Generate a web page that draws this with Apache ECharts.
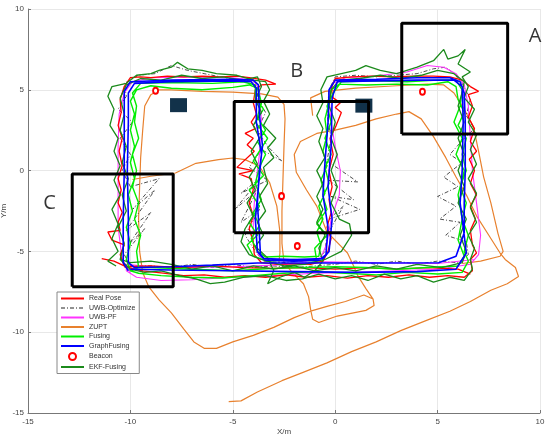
<!DOCTYPE html>
<html>
<head>
<meta charset="utf-8">
<script src="https://cdn.jsdelivr.net/npm/echarts@6/dist/echarts.min.js"></script>
<style>
  html, body { margin: 0; padding: 0; background: #fff; }
  #chart { width: 550px; height: 440px; }
</style>
</head>
<body>
<div id="chart"></div>
<script>
// axis ticks
const xTicks = [-15, -10, -5, 0, 5, 10];
const yTicks = [-15, -10, -5, 0, 5, 10];

// trajectories [x, y] in metres
const realPose = [[-11.4,-5.45],[-10.8,-5.6],[-10.3,-5.9],[-10.5,-5.2],[-10.3,-4.6],[-10.9,-4.3],[-11.1,-3.8],[-10.5,-3.7],[-10.6,-3.2],[-10.4,-2.6],[-10.6,-2.0],[-10.45,-1.2],[-10.6,-0.5],[-10.4,0.3],[-10.55,1.2],[-10.4,2.0],[-10.6,2.8],[-10.45,3.6],[-10.5,4.4],[-10.3,5.2],[-10.0,5.75],[-9.5,5.8],[-9.0,5.75],[-8.2,5.85],[-7.4,5.8],[-6.5,5.85],[-5.6,5.8],[-4.8,5.85],[-4.2,5.75],[-3.4,5.6],[-2.9,5.35],[-3.6,5.3],[-3.9,5.0],[-4.0,4.2],[-3.85,3.5],[-4.1,3.0],[-3.9,2.6],[-4.4,2.3],[-4.0,2.0],[-4.3,1.6],[-3.95,1.2],[-4.8,0.2],[-4.0,0.0],[-4.7,-0.2],[-4.1,-0.5],[-4.0,-1.2],[-4.2,-2.0],[-4.0,-2.8],[-4.2,-3.6],[-4.0,-4.4],[-3.95,-5.2],[-3.6,-5.7],[-2.8,-5.8],[-2.0,-5.75],[-1.2,-5.8],[-0.6,-5.6],[-0.35,-5.0],[-0.2,-4.2],[-0.4,-3.5],[-0.2,-2.6],[-0.3,-1.8],[-0.15,-1.0],[-0.3,0.0],[-0.1,1.0],[-0.25,2.0],[0.05,2.8],[0.3,3.6],[0.0,3.9],[0.25,4.2],[-0.1,4.5],[-0.2,5.1],[0.0,5.7],[0.8,5.8],[1.8,5.85],[2.8,5.8],[3.8,5.85],[4.8,5.85],[5.6,5.8],[6.2,5.6],[6.6,5.2],[7.0,4.9],[6.5,4.7],[6.7,4.0],[6.5,3.3],[6.8,2.6],[6.6,1.8],[6.9,1.2],[6.55,0.7],[6.8,0.0],[6.6,-0.8],[6.9,-1.5],[6.6,-2.2],[6.85,-3.0],[6.6,-3.7],[6.7,-4.6],[6.9,-5.1],[6.6,-5.5],[6.7,-6.2],[6.3,-6.6],[5.5,-6.5],[4.6,-6.6],[3.6,-6.45],[2.6,-6.6],[1.6,-6.5],[0.6,-6.65],[-0.4,-6.5],[-1.4,-6.6],[-2.4,-6.45],[-3.4,-6.6],[-4.4,-6.5],[-5.4,-6.6],[-6.4,-6.45],[-7.4,-6.5],[-8.4,-6.35],[-9.4,-6.2],[-10.1,-6.0],[-10.3,-5.95],[-9.0,-5.9],[-7.5,-6.0],[-6.0,-5.9],[-4.5,-6.0],[-3.0,-6.05],[-1.5,-6.0],[0.0,-6.1],[1.5,-6.0],[3.0,-6.1],[4.5,-6.0],[6.0,-6.1],[6.6,-6.4]];

const uwbOptimize = [[-10.0,-5.9],[-10.3,-5.2],[-9.3,-3.6],[-10.1,-4.6],[-9.0,-2.6],[-10.2,-3.7],[-8.8,-1.2],[-9.9,-2.4],[-8.6,-0.5],[-10.0,-1.0],[-10.4,0.0],[-10.0,1.0],[-10.5,2.0],[-9.9,3.0],[-10.6,3.8],[-10.2,4.6],[-10.3,5.4],[-9.6,5.9],[-8.8,6.0],[-8.0,6.5],[-7.2,6.2],[-6.4,6.0],[-5.6,5.8],[-4.6,5.6],[-4.0,5.5],[-3.8,4.5],[-3.4,3.6],[-3.8,2.5],[-3.3,1.5],[-2.6,0.6],[-3.6,1.3],[-4.2,0.2],[-3.3,-0.6],[-4.6,-1.4],[-3.6,-0.4],[-4.9,-2.4],[-3.8,-1.2],[-4.6,-3.2],[-3.7,-2.4],[-4.4,-4.0],[-3.9,-5.0],[-3.5,-5.6],[-2.6,-5.7],[-1.8,-5.6],[-1.0,-5.75],[-0.5,-5.0],[-0.4,-4.0],[0.4,-2.2],[-0.3,-3.0],[1.2,-2.4],[-0.2,-1.6],[0.9,-1.8],[-0.3,-0.6],[1.1,-0.7],[-0.4,0.6],[-0.2,2.0],[-0.4,3.5],[-0.3,5.0],[0.0,5.8],[1.0,5.9],[2.0,5.8],[3.0,5.9],[4.0,6.0],[4.8,6.3],[5.4,6.4],[5.8,6.0],[6.2,5.4],[6.6,4.4],[6.4,3.4],[6.8,2.6],[6.3,2.0],[5.6,1.0],[6.2,0.5],[5.3,-0.4],[6.0,-1.0],[5.0,-1.6],[5.9,-2.2],[5.1,-3.0],[6.1,-3.2],[5.4,-4.0],[6.4,-4.4],[6.5,-5.2],[6.0,-5.7],[5.0,-5.6],[4.0,-5.8],[3.0,-5.6],[2.0,-5.8],[1.0,-5.6],[0.0,-5.8],[-1.0,-5.9],[-2.0,-6.0],[-3.0,-5.9],[-4.0,-6.0],[-5.0,-5.8],[-6.0,-6.0],[-7.0,-5.8],[-8.0,-6.0],[-9.0,-5.9],[-10.0,-5.9]];

const uwbPf = [[-10.0,-6.3],[-10.4,-5.5],[-10.6,-3.5],[-10.6,-1.0],[-10.6,1.5],[-10.55,3.5],[-10.3,4.8],[-9.9,5.5],[-9.0,5.75],[-7.0,5.8],[-5.0,5.75],[-4.0,5.6],[-3.7,5.0],[-3.6,3.0],[-3.7,1.0],[-3.9,-1.0],[-4.0,-3.0],[-4.0,-4.5],[-3.7,-5.3],[-3.2,-5.55],[-1.5,-5.6],[-0.7,-5.4],[-0.4,-4.5],[-0.2,-3.0],[0.2,-1.5],[0.25,0.0],[0.0,1.5],[-0.2,3.0],[-0.3,4.5],[-0.1,5.4],[0.5,5.75],[2.0,5.85],[3.5,6.1],[4.5,6.5],[5.3,6.4],[5.9,6.0],[6.3,5.3],[6.5,4.0],[6.6,2.0],[6.7,0.0],[6.9,-2.0],[7.1,-4.0],[7.0,-5.2],[6.6,-5.8],[5.0,-6.1],[3.0,-6.2],[1.0,-6.3],[-1.0,-6.35],[-3.0,-6.5],[-5.0,-6.6],[-7.0,-6.75],[-8.5,-6.8],[-9.7,-6.6],[-10.2,-6.2],[-10.2,-5.8],[-9.0,-5.95],[-7.0,-6.0],[-5.0,-5.95],[-3.0,-5.85],[-0.5,-5.65],[2.0,-5.7],[5.0,-5.75],[6.8,-5.5]];

const zuptA = [[-5.2,-14.3],[-4.6,-14.25],[-3.8,-13.7],[-2.6,-13.0],[-1.6,-12.5],[-0.4,-11.9],[0.8,-11.2],[2.0,-10.6],[3.2,-9.9],[4.4,-9.3],[5.6,-8.7],[6.6,-8.1],[7.6,-7.4],[8.4,-7.0],[8.95,-6.55],[8.8,-6.0],[8.3,-5.5],[8.05,-5.1],[7.5,-4.0],[6.9,-2.8],[6.4,-1.5],[5.9,-0.4],[5.4,0.8],[4.8,2.1],[4.2,3.2],[3.6,3.65],[3.0,3.5],[2.0,3.2],[1.0,2.8],[0.0,2.5],[-0.9,2.3],[-1.7,1.8],[-2.0,1.0],[-1.9,-0.1],[-1.4,-1.2],[-0.9,-2.2],[-0.4,-3.8],[0.3,-4.7],[0.6,-5.1],[0.9,-5.9],[1.1,-6.5],[1.5,-7.3],[1.85,-7.95],[1.9,-8.35],[1.5,-8.65],[0.1,-9.0],[-0.8,-9.4],[-1.1,-9.2],[-1.2,-8.6],[-1.3,-7.8],[-1.55,-7.0],[-2.1,-6.3],[-2.5,-5.7],[-2.6,-4.5],[-2.6,-2.5],[-2.55,-0.5],[-2.5,1.5],[-2.45,3.2],[-2.5,4.1],[-2.8,4.55],[-3.6,4.75],[-5.0,4.85],[-6.5,4.9],[-8.0,5.0],[-8.6,5.0],[-9.0,4.7],[-9.3,4.0],[-9.4,2.5],[-9.5,0.8],[-9.55,-1.0],[-9.6,-3.0],[-9.55,-5.0],[-9.4,-6.3],[-9.1,-7.2],[-8.6,-8.0],[-8.0,-8.8],[-7.4,-9.8],[-6.9,-10.6],[-6.4,-11.0],[-5.8,-11.0],[-5.0,-10.6],[-4.0,-10.2],[-3.0,-9.7],[-2.0,-9.1],[-1.2,-8.7],[-0.4,-8.4],[0.5,-8.1],[1.4,-7.7],[1.85,-7.95]];
const zuptB = [[-9.9,-0.55],[-9.0,-0.35],[-7.8,-0.15],[-6.8,0.45],[-5.7,0.68],[-5.0,0.78],[-4.4,0.68],[-3.7,0.27],[-3.2,-0.75],[-2.85,-2.2],[-2.7,-3.8],[-2.7,-5.1],[-2.75,-5.7]];
const zuptC = [[-1.1,3.4],[-1.2,4.5],[-0.5,4.9],[1.0,5.1],[3.0,5.25],[4.5,5.35],[5.3,5.3],[5.8,4.8],[6.3,3.8],[6.75,2.7],[7.0,1.2],[7.25,-0.4],[7.6,-2.0],[7.95,-3.9],[8.2,-5.0],[8.05,-5.3],[7.1,-5.6],[6.2,-5.75]];

const fusing = [[-10.0,-6.2],[-10.2,-5.5],[-10.0,-4.5],[-10.2,-3.5],[-9.9,-2.5],[-10.1,-1.5],[-9.8,-0.5],[-10.0,0.5],[-9.8,1.5],[-10.0,2.5],[-9.8,3.5],[-10.0,4.3],[-9.7,5.0],[-9.0,5.25],[-8.0,5.1],[-6.5,5.0],[-5.0,5.15],[-4.2,5.3],[-3.8,5.1],[-3.6,4.2],[-3.8,3.3],[-3.4,2.5],[-3.8,1.8],[-3.4,1.0],[-3.7,0.2],[-3.9,-0.8],[-3.6,-1.8],[-4.0,-2.6],[-3.7,-3.4],[-4.1,-4.2],[-3.8,-5.0],[-3.4,-5.35],[-2.5,-5.3],[-1.5,-5.35],[-0.8,-5.3],[-0.7,-4.6],[-0.9,-3.8],[-0.6,-3.0],[-0.8,-2.2],[-0.5,-1.4],[-0.7,-0.6],[-0.4,0.3],[-0.6,1.2],[-0.4,2.2],[-0.5,3.2],[-0.3,4.2],[-0.2,5.0],[0.2,5.35],[1.5,5.3],[3.0,5.35],[4.5,5.3],[5.5,5.5],[5.9,5.2],[6.0,4.4],[6.3,3.6],[6.0,2.8],[6.4,2.0],[6.2,1.0],[6.4,0.0],[6.1,-1.0],[6.4,-2.0],[6.2,-3.0],[6.5,-4.0],[6.3,-5.0],[6.5,-5.6],[6.2,-6.3],[5.0,-6.4],[3.5,-6.3],[2.0,-6.45],[0.5,-6.35],[-1.0,-6.25],[-2.5,-6.35],[-4.0,-6.5],[-5.5,-6.65],[-7.0,-6.6],[-8.5,-6.5],[-9.6,-6.35],[-10.0,-6.2],[-9.6,-6.0],[-9.7,-5.0],[-9.5,-4.0],[-9.8,-3.0],[-9.6,-2.0],[-9.9,-1.0],[-9.7,0.0],[-9.9,1.0],[-9.6,2.0],[-9.8,3.0],[-9.7,4.0],[-9.9,4.8],[-9.5,5.4],[-8.0,5.45],[-6.0,5.4],[-4.5,5.5],[-3.9,5.3],[-3.9,4.5],[-3.5,3.8],[-3.9,3.0],[-3.3,2.0],[-3.6,1.4],[-4.0,0.6],[-3.5,-0.3],[-4.2,-1.2],[-3.7,-2.2],[-4.2,-3.2],[-3.8,-4.0],[-4.3,-4.6],[-4.0,-5.3],[-3.3,-5.6],[-2.0,-5.5],[-0.9,-5.6],[-1.0,-4.8],[-0.4,-4.0],[-0.9,-3.3],[-0.4,-2.4],[-0.6,-1.6],[-0.3,-0.8],[-0.5,0.2],[-0.2,1.0],[-0.5,2.0],[-0.2,3.0],[-0.4,4.0],[-0.1,4.8],[0.3,5.5],[2.0,5.55],[3.5,5.5],[5.0,5.6],[5.9,5.6],[6.2,5.0],[6.1,4.0],[5.8,3.0],[6.2,2.0],[5.9,1.0],[6.3,0.0],[6.0,-1.5],[6.2,-3.0],[6.0,-4.3],[6.3,-5.3],[6.0,-5.9],[4.5,-6.0],[3.0,-6.1],[1.5,-6.0],[0.0,-5.95],[-1.5,-6.0],[-3.0,-6.05],[-5.0,-6.2],[-7.0,-6.1],[-9.0,-6.0],[-9.6,-6.0]];

const graphFusing = [[-10.1,-6.2],[-10.35,-5.7],[-10.35,-3.0],[-10.3,0.0],[-10.3,3.0],[-10.3,4.9],[-10.0,5.5],[-8.0,5.6],[-5.0,5.65],[-4.0,5.6],[-3.75,5.3],[-3.7,3.5],[-3.55,1.5],[-3.7,0.0],[-3.8,-2.0],[-3.7,-4.0],[-3.65,-5.2],[-3.4,-5.55],[-2.0,-5.6],[-0.8,-5.55],[-0.45,-5.2],[-0.35,-3.5],[-0.6,-1.5],[-0.5,0.5],[-0.35,3.0],[-0.3,5.0],[0.0,5.6],[2.0,5.65],[4.0,5.75],[5.6,5.75],[6.1,5.5],[6.3,4.8],[6.35,3.0],[6.35,0.0],[6.3,-2.0],[6.3,-3.85],[5.9,-5.3],[5.05,-5.7],[2.0,-5.72],[-1.0,-5.72],[-3.8,-5.72],[-6.0,-5.85],[-8.0,-5.95],[-9.8,-6.0],[-10.1,-5.7],[-10.1,-3.0],[-10.15,0.0],[-10.1,3.0],[-10.1,4.8],[-9.8,5.4],[-8.0,5.5],[-5.0,5.55],[-4.1,5.5],[-3.85,5.1],[-3.85,3.0],[-3.6,1.0],[-3.75,-1.0],[-3.9,-3.0],[-3.8,-5.0],[-3.5,-5.45],[-2.0,-5.5],[-0.6,-5.45],[-0.3,-5.0],[-0.15,-3.0],[-0.35,-1.0],[-0.2,1.5],[-0.15,4.5],[0.1,5.5],[2.0,5.55],[4.0,5.6],[5.8,5.6],[6.2,5.2],[6.25,3.0],[6.2,0.0],[6.1,-2.0],[6.3,-4.0],[6.4,-5.1],[5.9,-6.1],[4.0,-6.25],[1.0,-6.3],[-2.0,-6.25],[-5.0,-6.2],[-8.0,-6.15],[-10.0,-6.1]];

const ekfFusing = [[-10.7,-5.9],[-11.1,-5.6],[-10.6,-5.0],[-10.9,-4.2],[-10.6,-3.3],[-10.9,-2.4],[-10.5,-1.5],[-10.8,-0.6],[-10.5,0.3],[-10.8,1.2],[-10.6,2.0],[-11.0,2.8],[-10.8,3.8],[-11.1,4.6],[-10.9,5.2],[-10.2,5.4],[-9.7,5.9],[-9.0,6.0],[-8.6,6.2],[-8.0,6.4],[-7.7,6.7],[-7.2,6.3],[-6.5,6.2],[-5.8,6.0],[-4.8,5.9],[-4.0,5.6],[-3.4,5.5],[-3.2,5.0],[-3.5,4.3],[-3.2,3.5],[-3.5,2.8],[-2.9,2.0],[-3.3,1.4],[-3.0,0.8],[-3.5,0.2],[-3.3,-0.8],[-3.7,-1.6],[-3.4,-2.5],[-3.8,-3.2],[-3.5,-4.0],[-3.9,-4.7],[-3.3,-5.4],[-3.0,-6.2],[-3.3,-7.0],[-2.7,-6.6],[-2.0,-6.3],[-1.5,-6.6],[-1.0,-6.2],[-0.6,-5.6],[-0.8,-4.8],[-0.5,-4.0],[-0.9,-3.2],[-0.6,-2.4],[-0.9,-1.6],[-0.6,-0.8],[-0.9,0.0],[-0.5,0.8],[-0.8,1.8],[-0.6,2.6],[-0.9,3.4],[-0.6,4.2],[-0.7,5.0],[-0.4,5.8],[0.3,6.0],[1.0,6.2],[1.5,6.5],[2.2,6.2],[3.0,6.0],[4.0,6.4],[4.8,6.8],[5.3,7.5],[5.5,6.9],[6.0,7.1],[6.35,7.5],[6.0,6.6],[6.6,6.1],[6.2,5.8],[6.5,5.2],[6.3,4.5],[6.8,3.8],[6.5,3.0],[6.9,2.2],[6.6,1.3],[6.9,0.4],[6.5,-0.5],[6.9,-1.4],[6.6,-2.3],[6.9,-3.2],[6.5,-4.0],[6.8,-4.8],[6.6,-5.5],[6.7,-6.1],[6.3,-6.8],[5.6,-6.6],[4.8,-6.9],[4.0,-6.5],[3.2,-6.7],[2.4,-6.4],[1.6,-6.8],[0.8,-6.5],[0.0,-6.7],[-0.8,-6.4],[-1.6,-6.7],[-2.4,-6.8],[-3.4,-6.5],[-4.5,-6.6],[-5.4,-6.9],[-6.1,-7.0],[-6.8,-6.7],[-7.6,-6.5],[-8.5,-6.2],[-9.3,-6.3],[-10.0,-6.1],[-10.5,-5.5],[-10.3,-4.5],[-10.6,-3.5],[-10.2,-2.5],[-10.4,-1.5],[-10.1,-0.5],[-10.4,0.5],[-10.2,1.5],[-10.5,2.5],[-10.3,3.5],[-10.5,4.5],[-10.2,5.3],[-9.5,5.7],[-8.5,5.6],[-7.5,5.9],[-6.5,5.7],[-5.5,5.8],[-4.5,5.6],[-3.8,5.8],[-3.6,5.2],[-3.9,4.4],[-3.6,3.6],[-4.0,2.8],[-3.7,2.0],[-4.1,1.2],[-3.8,0.4],[-4.2,-0.4],[-3.9,-1.2],[-4.3,-2.0],[-4.0,-2.8],[-4.4,-3.6],[-4.6,-4.4],[-4.2,-5.2],[-3.6,-5.5],[-2.5,-5.9],[-1.5,-5.8],[-0.5,-5.5],[0.3,-5.0],[0.8,-4.0],[0.7,-3.3],[0.2,-3.0],[-0.2,-2.0],[0.1,-1.0],[-0.2,0.0],[0.1,1.0],[-0.2,2.0],[0.0,3.0],[-0.3,4.0],[-0.2,5.0],[0.2,5.6],[1.2,5.7],[2.2,5.9],[3.2,5.7],[4.2,5.9],[5.0,6.2],[5.8,6.0],[6.3,5.5],[6.2,4.8],[6.0,4.0],[6.3,3.0],[6.0,2.0],[6.3,1.0],[6.0,0.0],[6.3,-1.0],[6.0,-2.0],[6.4,-3.0],[6.1,-4.0],[6.4,-5.0],[6.2,-5.7],[5.2,-6.0],[4.0,-5.8],[3.0,-6.1],[2.0,-5.9],[1.0,-6.2],[0.0,-6.0],[-1.0,-6.2],[-2.0,-5.9],[-3.0,-6.1],[-4.0,-5.9],[-5.0,-6.2],[-6.0,-5.9],[-7.0,-6.1],[-8.0,-5.8],[-9.0,-5.6],[-10.0,-5.7],[-10.5,-5.5]];

const beacons = [[-8.77,4.94],[4.26,4.88],[-2.62,-1.58],[-1.85,-4.67]];
const obstacles = [[-7.65,4.05],[1.4,4.02]];

// zoom boxes [xmin, xmax, ymin, ymax] and their letters
const boxNames = ['A', 'B', 'C'];
const boxes = [[3.25,8.42,2.26,9.12],[-4.93,1.63,-3.85,4.28],[-12.84,-7.91,-7.18,-0.21]];
const boxLabels = [[9.76,8.3],[-1.88,6.17],[-13.95,-2.04]];

const names = ['Real Pose','UWB-Optimize','UWB-PF','ZUPT','Fusing','GraphFusing','Beacon','EKF-Fusing'];

function path(name, data, color, width, z, type) {
  return {
    name: name, type: 'line', data: data, z: z,
    symbol: 'none', showSymbol: false, silent: true,
    lineStyle: { color: color, width: width, type: type || 'solid' },
    itemStyle: { color: color }
  };
}

const series = [
  path('ZUPT', zuptA, '#e8812e', 1.2, 1),
  path('ZUPT', zuptB, '#e8812e', 1.2, 1),
  path('ZUPT', zuptC, '#e8812e', 1.2, 1),
  path('UWB-Optimize', uwbOptimize, '#222', 0.8, 2, [4, 2, 1, 2]),
  path('UWB-PF', uwbPf, '#ff33ff', 1.1, 3),
  path('Real Pose', realPose, '#ff0000', 1.3, 4),
  path('Fusing', fusing, '#00ee00', 1.4, 5),
  path('EKF-Fusing', ekfFusing, '#1b8a1b', 1.3, 6),
  path('GraphFusing', graphFusing, '#0000ff', 1.6, 7),
  {
    name: 'Beacon', type: 'scatter', data: beacons, z: 8,
    symbol: 'emptyCircle', symbolSize: [5, 6],
    itemStyle: { color: '#ff0000', borderColor: '#ff0000', borderWidth: 1.4, opacity: 1 }
  },
  {
    name: 'obstacle', type: 'scatter', data: obstacles, z: 8,
    symbol: 'rect', symbolSize: [17, 14],
    itemStyle: { color: '#12324a', opacity: 1 }
  }
];

boxes.forEach((b, i) => {
  series.push({
    name: 'box' + boxNames[i], type: 'line', z: 9, symbol: 'none', silent: true,
    data: [[b[0], b[2]], [b[1], b[2]], [b[1], b[3]], [b[0], b[3]], [b[0], b[2]]],
    lineStyle: { color: '#000', width: 3 }
  });
});

series.push({
  name: 'letters', type: 'scatter', z: 9, symbolSize: 0, silent: true,
  data: boxLabels.map((p, i) => ({ value: p, label: { formatter: boxNames[i] } })),
  label: { show: true, position: 'inside', fontSize: 20, color: '#000', fontFamily: 'Open Sans' }
});

const axisCommon = {
  type: 'value', min: -15, max: 10, interval: 5,
  nameLocation: 'middle', nameMoveOverlap: false,
  nameTextStyle: { fontSize: 8, color: '#444', fontFamily: 'Liberation Sans' },
  axisLine: { show: true, onZero: false, lineStyle: { color: '#777', width: 1 } },
  axisTick: { show: true, inside: true, length: 3, lineStyle: { color: '#777' } },
  axisLabel: { fontSize: 8, color: '#444', fontFamily: 'Liberation Sans' },
  splitLine: { show: true, lineStyle: { color: '#e8e8e8', width: 1 } }
};

const legendData = names.map(n => {
  if (n === 'Beacon') return { name: n, itemStyle: { opacity: 1 } };
  if (n === 'UWB-Optimize') return { name: n, lineStyle: { width: 1 } };
  return { name: n };
});

const option = {
  animation: false,
  backgroundColor: '#fff',
  grid: { left: 28, right: 10, top: 9, bottom: 27, containLabel: false, outerBoundsMode: 'none' },
  xAxis: Object.assign({}, axisCommon, {
    name: 'X/m', nameGap: 15,
    axisLabel: Object.assign({}, axisCommon.axisLabel, {
      margin: 5, formatter: v => xTicks.includes(v) ? String(v) : ''
    })
  }),
  yAxis: Object.assign({}, axisCommon, {
    name: 'Y/m', nameGap: 20, nameRotate: 90,
    axisLabel: Object.assign({}, axisCommon.axisLabel, {
      margin: 4, formatter: v => yTicks.includes(v) ? String(v) : ''
    })
  }),
  legend: {
    data: legendData,
    orient: 'vertical', left: 57, top: 292,
    itemWidth: 23, itemHeight: 7, itemGap: 2.5,
    padding: [3, 4, 3, 3],
    itemStyle: { opacity: 0 },
    lineStyle: { width: 2 },
    backgroundColor: '#fff', borderColor: '#888', borderWidth: 1,
    textStyle: { fontSize: 7, color: '#333', fontFamily: 'Liberation Sans' },
    selectedMode: false
  },
  series: series
};

const chart = echarts.init(document.getElementById('chart'), null, { renderer: 'canvas' });
chart.setOption(option);
</script>
</body>
</html>
